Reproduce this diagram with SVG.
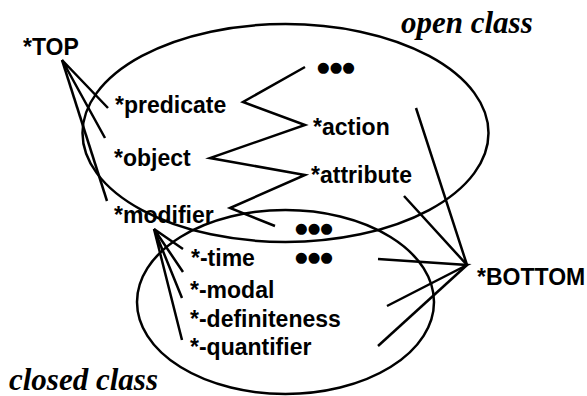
<svg xmlns="http://www.w3.org/2000/svg" width="587" height="396" viewBox="0 0 587 396">
<style>
.lbl{font-family:"Liberation Sans",Arial,sans-serif;font-weight:bold;font-size:23px;fill:#000}
.cls{font-family:"Liberation Serif","Times New Roman",serif;font-weight:bold;font-style:italic;font-size:31px;fill:#000}
.dots{font-family:"DejaVu Sans",sans-serif;font-size:14.5px;fill:#000}
.ell{fill:none;stroke:#000;stroke-width:2.5}
.ln{fill:none;stroke:#000;stroke-width:2.5;stroke-linejoin:miter}
</style>
<rect width="587" height="396" fill="#fff"/>
<g id="open-class">
<ellipse class="ell" cx="285.5" cy="133" rx="203" ry="109"/>
<text class="cls" x="401" y="33">open class</text>
</g>
<g id="closed-class">
<ellipse class="ell" cx="285.5" cy="302" rx="148.5" ry="92"/>
<text class="cls" x="9" y="390">closed class</text>
</g>
<g id="connectors">
<polyline class="ln" points="108,108 62,60 105,138"/>
<polyline class="ln" points="62,60 107,201"/>
<polyline class="ln" points="305,67 243,102 305,125 210,158 305,175 230,208 275,226"/>
<polyline class="ln" points="183,249 154,229 183,272"/>
<polyline class="ln" points="182,298 154,229 182,340"/>
<polyline class="ln" points="416,108 467,265 404,196"/>
<polyline class="ln" points="378,259 467,265 387,306"/>
<polyline class="ln" points="467,265 378,346"/>
</g>
<g id="top"><text class="lbl" x="23" y="55">*TOP</text></g>
<g id="predicate"><text class="lbl" x="115" y="113">*predicate</text></g>
<g id="object"><text class="lbl" x="114" y="166">*object</text></g>
<g id="modifier"><text class="lbl" x="114" y="223">*modifier</text></g>
<g id="dots1"><text class="dots" x="317" y="72">●●●</text></g>
<g id="action"><text class="lbl" x="313" y="135">*action</text></g>
<g id="attribute"><text class="lbl" x="311" y="183">*attribute</text></g>
<g id="dots2"><text class="dots" x="295" y="233">●●●</text></g>
<g id="dots3"><text class="dots" x="295" y="262">●●●</text></g>
<g id="time"><text class="lbl" x="191" y="266">*-time</text></g>
<g id="modal"><text class="lbl" x="190" y="298">*-modal</text></g>
<g id="definiteness"><text class="lbl" x="190" y="327">*-definiteness</text></g>
<g id="quantifier"><text class="lbl" x="190" y="355">*-quantifier</text></g>
<g id="bottom"><text class="lbl" x="477" y="285">*BOTTOM</text></g>
</svg>
